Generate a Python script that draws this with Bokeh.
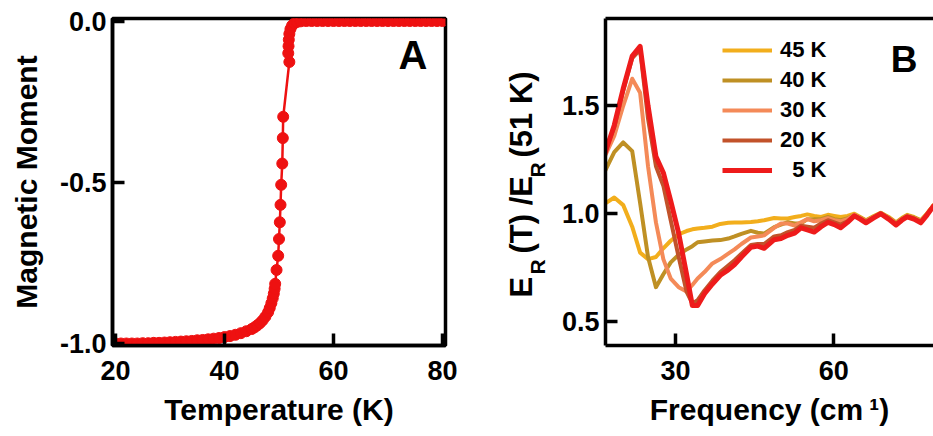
from math import pi
from bokeh.plotting import figure
from bokeh.models import (Range1d, FixedTicker, PrintfTickFormatter, LinearAxis,
                          Label, Legend, LegendItem)
from bokeh.layouts import row
from bokeh.embed import file_html
from bokeh.resources import INLINE

# ---------------- Panel A data: magnetic moment vs temperature ----------------
temperature = [20.0, 21.0, 22.0, 23.0, 24.0, 25.0, 26.0, 27.0, 28.0, 29.0, 30.0,
               31.0, 32.0, 33.0, 34.0, 35.0, 36.0, 37.0, 38.0, 39.0, 40.0, 41.0,
               42.0, 43.0, 44.0, 45.0, 45.5, 46.0, 46.5, 47.0, 47.5, 48.0, 48.3,
               48.6, 48.85, 49.05, 49.2, 49.3, 49.55, 49.85, 50.0, 50.15, 50.28,
               50.4, 50.6, 50.7, 50.77, 51.9, 51.7, 51.75, 51.8, 51.9, 52.1, 52.4,
               52.8, 53.3, 54.0, 55.0, 56.0, 57.0, 58.0, 59.0, 60.0, 61.0, 62.0,
               63.0, 64.0, 65.0, 66.0, 67.0, 68.0, 69.0, 70.0, 71.0, 72.0, 73.0,
               74.0, 75.0, 76.0, 77.0, 78.0, 79.0, 80.0]
moment = [-1.000, -1.000, -1.000, -1.000, -1.000, -0.999, -0.999, -0.998, -0.998,
          -0.997, -0.996, -0.995, -0.994, -0.993, -0.992, -0.990, -0.989, -0.987,
          -0.985, -0.983, -0.980, -0.977, -0.973, -0.968, -0.962, -0.955, -0.950,
          -0.944, -0.937, -0.928, -0.917, -0.903, -0.890, -0.875, -0.860, -0.845,
          -0.830, -0.815, -0.772, -0.728, -0.676, -0.624, -0.570, -0.508, -0.442,
          -0.363, -0.297, -0.127, -0.100, -0.078, -0.058, -0.040, -0.025, -0.014,
          -0.007, -0.003, -0.001, 0.0, 0.0, 0.0, 0.0, 0.0, 0.0, 0.0, 0.0, 0.0,
          0.0, 0.0, 0.0, 0.0, 0.0, 0.0, 0.0, 0.0, 0.0, 0.0, 0.0, 0.0, 0.0, 0.0,
          0.0, 0.0, 0.0]
a_xticks = [20, 40, 60, 80]
a_yticks = [-1.0, -0.5, 0.0]

# ---------------- Panel B data: E_R(T)/E_R(51 K) vs frequency ----------------
freq = [16.5, 18.4, 20.1, 21.8, 23.3, 24.8, 26.3, 27.7, 29.1, 30.6, 32.1, 33.2,
        34.2, 35.5, 37.0, 38.5, 40.0, 41.2, 42.5, 44.3, 45.6, 46.8, 48.7, 50.0,
        51.3, 52.6, 53.8, 55.0, 56.3, 57.6, 58.9, 60.1, 61.3, 62.6, 63.9, 65.0,
        66.1, 67.5, 68.9, 70.4, 71.8, 72.9, 73.9, 75.2, 76.5, 77.7, 78.9, 80.0]
ratio_45K = [1.045, 1.075, 1.04, 0.94, 0.82, 0.79, 0.80, 0.84, 0.875, 0.905, 0.92,
             0.928, 0.932, 0.935, 0.94, 0.953, 0.958, 0.96, 0.96, 0.962, 0.965,
             0.97, 0.98, 0.978, 0.978, 0.985, 0.99, 0.997, 0.99, 0.985, 0.995,
             0.99, 0.985, 0.99, 1.0, 0.985, 0.97, 0.988, 1.005, 0.985, 0.96, 0.98,
             0.995, 0.985, 0.97, 1.002, 1.04, 1.05]
ratio_40K = [1.19, 1.285, 1.33, 1.29, 1.05, 0.80, 0.66, 0.72, 0.775, 0.81, 0.835,
             0.85, 0.868, 0.872, 0.876, 0.878, 0.885, 0.895, 0.907, 0.921, 0.912,
             0.908, 0.938, 0.95, 0.961, 0.955, 0.955, 0.975, 0.975, 0.975, 0.985,
             0.975, 0.97, 0.978, 0.995, 0.982, 0.968, 0.986, 1.003, 0.982, 0.958,
             0.977, 0.992, 0.982, 0.968, 1.0, 1.038, 1.05]
ratio_30K = [1.26, 1.36, 1.50, 1.625, 1.56, 1.22, 0.96, 0.79, 0.70, 0.66, 0.64,
             0.67, 0.70, 0.73, 0.77, 0.79, 0.815, 0.835, 0.86, 0.89, 0.895, 0.90,
             0.935, 0.955, 0.955, 0.945, 0.96, 0.975, 0.965, 0.97, 0.98, 0.97,
             0.965, 0.975, 0.995, 0.98, 0.965, 0.985, 1.002, 0.98, 0.955, 0.975,
             0.99, 0.98, 0.965, 1.0, 1.038, 1.05]
ratio_20K = [1.28, 1.40, 1.57, 1.72, 1.76, 1.44, 1.22, 1.13, 0.97, 0.80, 0.64,
             0.585, 0.60, 0.645, 0.69, 0.73, 0.76, 0.785, 0.815, 0.855, 0.86, 0.86,
             0.895, 0.90, 0.915, 0.925, 0.945, 0.94, 0.935, 0.955, 0.97, 0.96,
             0.95, 0.965, 0.99, 0.978, 0.962, 0.982, 1.0, 0.978, 0.952, 0.972,
             0.988, 0.978, 0.962, 0.998, 1.035, 1.05]
ratio_5K = [1.27, 1.41, 1.58, 1.73, 1.775, 1.50, 1.265, 1.19, 1.06, 0.91, 0.72,
            0.575, 0.575, 0.63, 0.675, 0.715, 0.74, 0.765, 0.80, 0.845, 0.85, 0.84,
            0.88, 0.885, 0.90, 0.91, 0.935, 0.925, 0.915, 0.94, 0.96, 0.95, 0.935,
            0.96, 0.99, 0.975, 0.958, 0.98, 1.0, 0.975, 0.948, 0.97, 0.985, 0.975,
            0.958, 0.995, 1.035, 1.05]
series_labels = ["45 K", "40 K", "30 K", "20 K", "\u00a0\u00a05 K"]
series_colors = ["#F2AE1C", "#BF9024", "#F48A58", "#C2522A", "#EE1B1B"]
series_widths = [4, 4, 4, 4, 5]
b_xticks = [30, 60, 90]
b_yticks = [0.5, 1.0, 1.5]

FONT = "Liberation Sans"
RED = "#EE1111"
TOP, BOTTOM = 18, 91   # shared top / bottom borders (frames are aligned in the row)


def style_axis(ax, ticks, fmt, label_standoff=6):
    ax.ticker = FixedTicker(ticks=ticks)
    ax.formatter = PrintfTickFormatter(format=fmt)
    ax.axis_line_width = 3.5
    ax.axis_line_color = "black"
    ax.major_tick_line_width = 3.5
    ax.major_tick_line_color = "black"
    ax.major_tick_in = 12
    ax.major_tick_out = 0
    ax.minor_tick_line_color = None
    ax.major_label_standoff = label_standoff
    ax.major_label_text_font = FONT
    ax.major_label_text_font_style = "bold"
    ax.major_label_text_font_size = "27px"
    ax.major_label_text_color = "black"
    ax.axis_label_text_font = FONT
    ax.axis_label_text_font_style = "bold"
    ax.axis_label_text_font_size = "30px"
    ax.axis_label_text_color = "black"


def bold_label(x, y, text, size, align="left", angle=0.0):
    return Label(x=x, y=y, x_units="screen", y_units="screen", text=text,
                 angle=angle, text_font=FONT, text_font_style="bold",
                 text_font_size=size, text_align=align,
                 text_baseline="alphabetic", text_color="black")


# ---------------- Panel A ----------------
pA = figure(width=470, height=436, x_range=Range1d(19.45, 80.55),
            y_range=Range1d(-1.0062, 0.0078), output_backend="svg",
            toolbar_location=None, min_border_left=112, min_border_right=25,
            min_border_top=TOP, min_border_bottom=BOTTOM)
pA.grid.visible = False
pA.outline_line_color = "black"
pA.outline_line_width = 3.5
pA.outline_line_alpha = 1.0
style_axis(pA.xaxis[0], a_xticks, "%d", 15)
style_axis(pA.yaxis[0], a_yticks, "%.1f", 6)
pA.xaxis[0].axis_label = "Temperature (K)"
pA.xaxis[0].axis_label_standoff = 10
pA.yaxis[0].axis_label = "Magnetic Moment"
pA.yaxis[0].axis_label_standoff = 14
pA.line(temperature, moment, color=RED, line_width=2.5)
pA.scatter(temperature, moment, size=11, color=RED)
pA.add_layout(bold_label(315, 291, "A", "40px", align="right"))

# ---------------- Panel B y-axis label (with subscripts) ----------------
pL = figure(width=80, height=436, x_range=Range1d(0, 1), y_range=Range1d(0, 1),
            output_backend="svg", toolbar_location=None, x_axis_type=None,
            y_axis_type=None, min_border_left=0, min_border_right=0,
            min_border_top=TOP, min_border_bottom=BOTTOM)
pL.grid.visible = False
pL.outline_line_color = None
ylab_pieces = [("E", 51, 48, "31px"), ("R", 67, 71, "21px"),
               ("(T) /E", 51, 92, "31px"), ("R", 67, 168, "21px"),
               ("(51 K)", 51, 188, "31px")]
for txt, sx, sy, fs in ylab_pieces:
    pL.add_layout(bold_label(sx, sy, txt, fs, angle=pi / 2))

# ---------------- Panel B ----------------
pB = figure(width=383, height=436, x_range=Range1d(16.74, 78.9),
            y_range=Range1d(0.39, 1.904), output_backend="svg",
            toolbar_location=None, min_border_left=55, min_border_right=0,
            min_border_top=TOP, min_border_bottom=BOTTOM)
pB.grid.visible = False
pB.outline_line_color = None
style_axis(pB.xaxis[0], b_xticks, "%d", 15)
style_axis(pB.yaxis[0], b_yticks, "%.1f", 6)
pB.xaxis[0].axis_label = "Frequency (cm\u2009\u00b9)"
pB.xaxis[0].axis_label_standoff = 10
top_axis = LinearAxis(ticker=FixedTicker(ticks=[]), axis_line_width=3.5,
                      axis_line_color="black", major_tick_line_color=None,
                      minor_tick_line_color=None, major_label_text_font_size="0px")
pB.add_layout(top_axis, "above")

series = [ratio_45K, ratio_40K, ratio_30K, ratio_20K, ratio_5K]
items = []
for vals, lab, col, lw in zip(series, series_labels, series_colors, series_widths):
    r = pB.line(freq, vals, color=col, line_width=lw, line_join="round")
    items.append(LegendItem(label=lab, renderers=[r]))

legend = Legend(items=items, location=(117, 162), glyph_width=50, glyph_height=24,
                label_height=24, spacing=4, padding=0, margin=0, label_standoff=8,
                border_line_color=None, background_fill_alpha=0,
                label_text_font=FONT, label_text_font_style="bold",
                label_text_font_size="22px", label_text_color="black")
pB.add_layout(legend)
pB.add_layout(bold_label(312, 286, "B", "37px", align="right"))

layout = row(pA, pL, pB, spacing=0)
open("out.html", "w").write(file_html(layout, INLINE))
